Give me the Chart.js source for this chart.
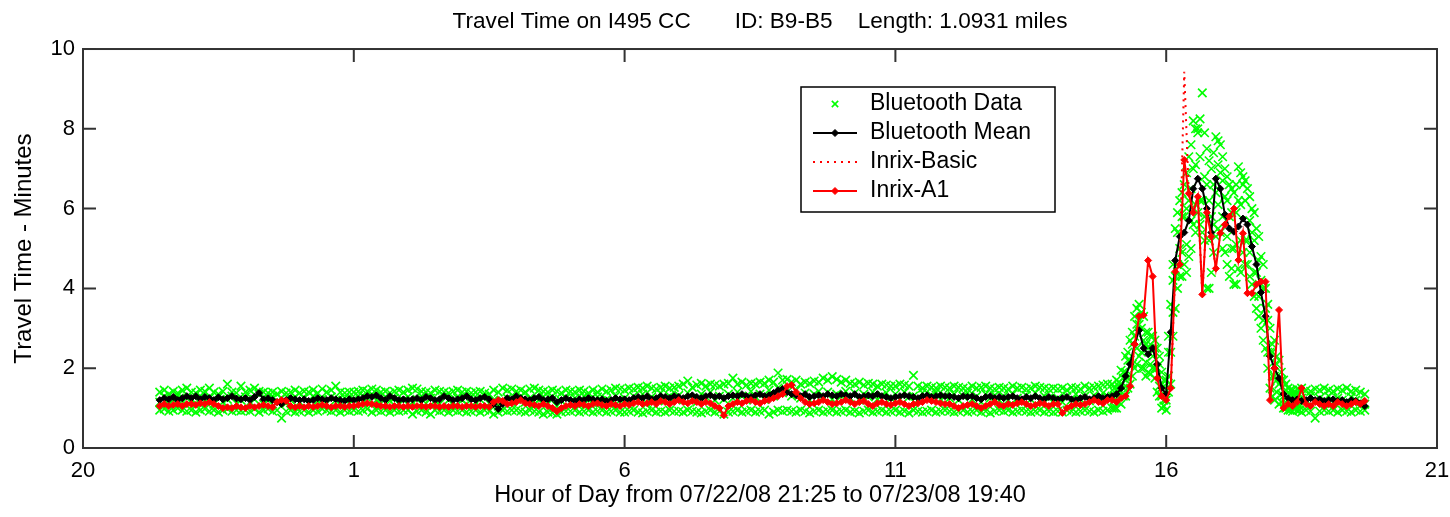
<!DOCTYPE html>
<html>
<head>
<meta charset="utf-8">
<title>Travel Time on I495 CC</title>
<script src="https://cdn.jsdelivr.net/npm/chart.js@4.4.0/dist/chart.umd.min.js"></script>
<style>
  html, body { margin: 0; padding: 0; background: #fff; }
  #wrap { position: relative; width: 1450px; height: 517px; }
</style>
</head>
<body>
<div id="wrap"><canvas id="tt"></canvas></div>
<script>
// time axis is "hours since midnight of 07/22/08" (so 25 = 1am next day)
var startHour = 21 + 25 / 60;    // 21:25
var stepHours = 5 / 60;          // one sample every 5 min
var peakStart = 39 + 2.5 / 60;   // extra bluetooth samples in the peak, 15:02:30
var basicStart = 40;             // inrix-basic piece that differs, 16:00

var titleText = 'Travel Time on I495 CC       ID: B9-B5    Length: 1.0931 miles';
var xTitle = 'Hour of Day from 07/22/08 21:25 to 07/23/08 19:40';
var yTitle = 'Travel Time - Minutes';
var xTickHours = [20, 25, 30, 35, 40, 45];
var yTickValues = [0, 2, 4, 6, 8, 10];

var btMean = [
  1.2,1.25,1.22,1.28,1.2,1.25,1.3,
  1.25,1.3,1.22,1.28,1.25,1.2,1.27,1.22,1.25,1.3,1.24,1.22,
  1.25,1.2,1.28,1.38,1.22,1.25,1.2,1.15,1.1,1.2,1.25,1.22,
  1.2,1.22,1.18,1.2,1.25,1.22,1.2,1.25,1.22,1.2,1.18,1.22,
  1.2,1.22,1.25,1.3,1.28,1.32,1.25,1.2,1.3,1.25,1.2,1.22,
  1.2,1.22,1.25,1.2,1.28,1.25,1.2,1.22,1.3,1.25,1.2,1.22,
  1.25,1.3,1.22,1.2,1.25,1.28,1.22,1.1,0.98,1.1,1.25,1.22,
  1.3,1.25,1.22,1.2,1.25,1.28,1.2,1.22,1.25,1.15,1.2,1.25,
  1.2,1.18,1.22,1.2,1.25,1.22,1.2,1.22,1.18,1.2,1.25,1.22,
  1.22,1.2,1.25,1.28,1.25,1.3,1.22,1.25,1.3,1.28,1.25,1.3,
  1.28,1.25,1.3,1.32,1.28,1.25,1.3,1.32,1.28,1.3,1.25,1.3,
  1.32,1.3,1.35,1.3,1.28,1.32,1.35,1.3,1.32,1.38,1.45,1.48,
  1.4,1.35,1.32,1.3,1.35,1.28,1.3,1.32,1.3,1.35,1.32,1.3,
  1.35,1.32,1.3,1.35,1.28,1.3,1.32,1.3,1.35,1.3,1.28,1.25,
  1.28,1.3,1.32,1.3,1.28,1.25,1.3,1.32,1.28,1.3,1.32,1.3,
  1.3,1.28,1.25,1.3,1.28,1.3,1.25,1.22,1.28,1.3,1.25,1.28,
  1.25,1.28,1.3,1.25,1.22,1.28,1.25,1.3,1.25,1.22,1.28,1.25,
  1.22,1.25,1.28,1.22,1.2,1.25,1.28,1.22,1.25,1.3,1.25,1.28,
  1.3,1.35,1.5,1.8,2.1,2.6,2.95,2.5,2.35,2.5,2.1,1.5,
  1.35,2.9,4.7,5.3,5.4,5.7,6.5,6.75,6.5,6.0,5.4,6.75,
  6.5,5.85,5.5,5.42,5.55,5.75,5.6,5.05,4.6,3.9,3.3,2.3,
  2.0,1.75,1.35,1.25,1.2,1.22,1.18,1.2,1.25,1.2,1.22,1.18,
  1.2,1.22,1.18,1.2,1.15,1.2,1.18,1.12,1.05
];

var inrixA1 = [
  1.05,1.1,1.05,1.08,1.1,1.05,1.1,
  1.1,1.08,1.12,1.1,1.15,1.1,1.05,1.0,1.02,1.0,1.05,1.02,
  1.0,1.05,1.02,1.05,1.08,1.05,1.02,1.15,1.2,1.18,1.05,1.02,
  1.05,1.02,1.05,1.03,1.05,1.08,1.05,1.02,1.05,1.05,1.03,1.05,
  1.05,1.08,1.1,1.12,1.1,1.08,1.05,1.05,1.03,1.05,1.05,1.03,
  1.05,1.03,1.05,1.05,1.03,1.05,1.05,1.03,1.05,1.03,1.05,1.05,
  1.03,1.05,1.05,1.03,1.05,1.05,1.03,1.15,1.2,1.18,1.1,1.12,
  1.15,1.2,1.12,1.1,1.08,1.05,1.1,1.05,1.0,0.92,1.0,1.05,
  1.08,1.05,1.1,1.08,1.05,1.1,1.12,1.08,1.05,1.1,1.08,1.05,
  1.1,1.08,1.12,1.15,1.1,1.12,1.15,1.1,1.18,1.15,1.1,1.15,
  1.2,1.15,1.12,1.18,1.15,1.1,1.15,1.12,1.05,1.0,0.82,1.05,
  1.1,1.15,1.12,1.18,1.2,1.15,1.12,1.18,1.2,1.25,1.3,1.35,
  1.55,1.58,1.4,1.25,1.15,1.1,1.12,1.15,1.2,1.15,1.1,1.12,
  1.15,1.2,1.15,1.1,1.15,1.18,1.1,1.05,1.12,1.15,1.1,1.08,
  1.12,1.15,1.1,1.05,1.1,1.12,1.15,1.2,1.18,1.15,1.12,1.1,
  1.1,1.05,1.0,1.05,1.08,1.1,1.05,1.0,1.05,1.1,1.15,1.08,
  1.05,1.1,1.08,1.12,1.15,1.1,1.05,1.08,1.12,1.1,1.05,1.1,
  1.1,0.88,1.0,1.05,1.1,1.08,1.1,1.15,1.2,1.15,1.12,1.2,
  1.2,1.15,1.25,1.3,1.55,2.6,3.3,3.33,4.7,4.3,1.75,1.3,
  1.2,1.5,4.42,4.6,7.22,6.38,5.9,6.3,3.85,5.9,5.3,4.5,
  5.38,5.6,5.8,6.0,4.71,5.38,3.88,3.88,4.1,4.17,4.17,1.2,
  2.0,3.46,1.0,1.1,1.05,1.15,1.5,1.1,1.05,1.15,1.1,1.05,
  1.1,1.05,1.15,1.1,1.05,1.1,1.15,1.1,1.18
];

var inrixBasic = [1.2,1.5,4.42,4.6,9.43,6.38,5.9,6.3,3.85,5.9,5.3,4.5];

// raw bluetooth matches, three per 5 min slot (upper, middle, lower of the cloud)
var btHi = [
  1.4,1.45,1.35,1.42,1.38,1.45,1.5,
  1.4,1.38,1.45,1.42,1.5,1.4,1.35,1.42,1.6,1.4,1.38,1.55,
  1.4,1.45,1.5,1.42,1.4,1.38,1.4,1.35,1.42,1.38,1.4,1.45,
  1.38,1.42,1.4,1.45,1.38,1.48,1.4,1.45,1.55,1.4,1.38,1.4,
  1.4,1.42,1.45,1.42,1.48,1.45,1.4,1.42,1.38,1.42,1.45,1.4,
  1.45,1.5,1.48,1.42,1.4,1.38,1.45,1.42,1.4,1.38,1.42,1.45,
  1.4,1.42,1.38,1.4,1.42,1.38,1.35,1.45,1.4,1.5,1.45,1.48,
  1.42,1.45,1.4,1.48,1.5,1.45,1.42,1.4,1.45,1.42,1.38,1.45,
  1.42,1.4,1.45,1.42,1.38,1.45,1.4,1.48,1.42,1.45,1.5,1.48,
  1.45,1.5,1.48,1.52,1.5,1.55,1.5,1.48,1.52,1.55,1.5,1.52,
  1.55,1.6,1.68,1.52,1.58,1.62,1.55,1.6,1.58,1.55,1.6,1.62,
  1.75,1.6,1.65,1.58,1.62,1.6,1.65,1.62,1.7,1.65,1.88,1.7,
  1.72,1.65,1.7,1.6,1.65,1.62,1.68,1.65,1.75,1.7,1.79,1.72,
  1.65,1.7,1.62,1.6,1.65,1.58,1.62,1.6,1.55,1.6,1.58,1.55,
  1.55,1.6,1.58,1.55,1.82,1.55,1.5,1.55,1.52,1.5,1.55,1.52,
  1.5,1.55,1.52,1.5,1.48,1.55,1.5,1.52,1.55,1.5,1.48,1.52,
  1.5,1.48,1.55,1.5,1.52,1.48,1.5,1.55,1.52,1.5,1.48,1.5,
  1.48,1.5,1.45,1.52,1.5,1.48,1.55,1.5,1.52,1.55,1.58,1.6,
  1.6,1.7,1.95,2.3,2.7,3.3,3.6,3.3,2.9,2.8,2.5,1.9,
  1.7,3.6,5.5,6.2,6.6,7.3,8.2,8.0,8.9,7.5,7.0,7.8,
  7.6,7.0,6.6,6.4,7.05,6.8,6.5,6.0,5.5,4.8,4.0,3.0,
  2.7,2.2,1.7,1.5,1.45,1.48,1.5,1.45,1.42,1.48,1.45,1.5,
  1.45,1.42,1.48,1.45,1.5,1.42,1.45,1.4,1.35
];

var btMid = [
  1.15,1.3,1.1,1.2,1.32,1.18,1.25,
  1.2,1.12,1.3,1.18,1.25,1.1,1.28,1.15,1.22,1.3,1.12,1.2,
  1.28,1.15,1.22,1.35,1.1,1.2,1.3,1.15,1.25,1.12,1.2,1.28,
  1.15,1.25,1.1,1.3,1.18,1.22,1.12,1.28,1.2,1.15,1.25,1.1,
  1.22,1.3,1.15,1.25,1.35,1.2,1.12,1.28,1.18,1.25,1.1,1.2,
  1.28,1.15,1.22,1.3,1.12,1.25,1.18,1.1,1.3,1.2,1.15,1.25,
  1.2,1.1,1.28,1.15,1.22,1.3,1.12,1.2,1.05,1.18,1.25,1.15,
  1.22,1.3,1.15,1.25,1.1,1.2,1.28,1.12,1.22,1.05,1.18,1.25,
  1.15,1.25,1.1,1.3,1.2,1.12,1.28,1.18,1.22,1.1,1.3,1.2,
  1.25,1.15,1.3,1.2,1.35,1.12,1.28,1.22,1.38,1.18,1.3,1.25,
  1.32,1.2,1.38,1.25,1.15,1.35,1.28,1.4,1.2,1.3,1.22,1.35,
  1.25,1.4,1.3,1.2,1.42,1.28,1.35,1.22,1.45,1.3,1.5,1.38,
  1.4,1.3,1.45,1.25,1.38,1.2,1.35,1.42,1.28,1.4,1.22,1.35,
  1.3,1.42,1.25,1.38,1.2,1.35,1.28,1.4,1.22,1.32,1.38,1.25,
  1.35,1.22,1.4,1.28,1.3,1.2,1.38,1.25,1.32,1.4,1.22,1.3,
  1.25,1.35,1.2,1.3,1.38,1.22,1.3,1.15,1.35,1.25,1.32,1.2,
  1.3,1.2,1.35,1.25,1.15,1.32,1.22,1.38,1.2,1.3,1.25,1.18,
  1.25,1.15,1.3,1.2,1.35,1.22,1.3,1.18,1.32,1.25,1.38,1.3,
  1.3,1.45,1.6,1.9,2.2,2.8,3.1,2.7,2.5,2.3,2.0,1.3,
  1.2,2.4,4.3,5.0,5.8,6.2,7.0,7.9,6.2,6.6,5.8,6.4,
  6.9,6.3,5.8,5.0,6.2,6.6,5.2,5.4,4.4,4.2,3.5,2.4,
  1.8,1.6,1.3,1.2,1.3,1.15,1.25,1.2,1.3,1.18,1.25,1.2,
  1.3,1.15,1.25,1.2,1.12,1.28,1.2,1.15,1.1
];

var btLo = [
  0.95,0.98,0.92,0.95,1.0,0.95,0.92,
  0.95,0.9,0.95,0.98,0.92,0.95,0.9,0.95,0.98,0.92,0.95,0.93,
  0.95,0.92,0.98,0.9,0.95,0.98,0.92,0.95,0.75,0.92,0.95,0.9,
  0.92,0.95,0.9,0.95,0.92,0.98,0.95,0.92,0.95,0.9,0.95,0.92,
  0.95,0.92,0.95,0.98,0.9,0.95,0.92,0.95,0.9,0.95,0.92,0.95,
  0.95,0.85,0.92,0.95,0.9,0.85,0.95,0.92,0.95,0.9,0.95,0.92,
  0.95,0.9,0.92,0.95,0.9,0.95,0.92,0.85,0.9,0.95,0.92,0.95,
  0.95,0.92,0.9,0.95,0.92,0.9,0.85,0.9,0.88,0.85,0.9,0.92,
  0.92,0.95,0.9,0.92,0.95,0.9,0.92,0.95,0.9,0.92,0.95,0.9,
  0.9,0.92,0.95,0.9,0.88,0.92,0.95,0.9,0.92,0.9,0.95,0.92,
  0.92,0.9,0.95,0.92,0.9,0.88,0.92,0.95,0.9,0.92,0.85,0.9,
  0.92,0.95,0.9,0.92,0.95,0.9,0.92,0.95,0.85,0.9,0.95,0.92,
  0.95,0.92,0.9,0.95,0.92,0.88,0.92,0.95,0.9,0.92,0.95,0.9,
  0.92,0.95,0.9,0.92,0.88,0.92,0.95,0.9,0.92,0.95,0.9,0.92,
  0.95,0.9,0.92,0.88,0.95,0.92,0.9,0.92,0.95,0.9,0.92,0.95,
  0.92,0.9,0.92,0.95,0.9,0.92,0.95,0.9,0.92,0.88,0.92,0.95,
  0.92,0.95,0.9,0.92,0.95,0.92,0.9,0.92,0.95,0.9,0.92,0.9,
  0.92,0.9,0.95,0.92,0.9,0.92,0.95,0.92,0.9,0.95,0.92,0.95,
  1.0,1.0,1.1,1.3,1.6,2.0,2.3,2.0,1.9,2.0,1.4,1.0,
  0.95,1.6,3.5,4.3,4.6,4.8,5.6,5.9,5.4,4.0,4.4,5.3,
  5.4,4.9,4.3,4.1,4.5,4.9,4.6,4.1,3.5,3.0,2.5,1.5,
  1.2,1.1,1.0,0.95,0.92,0.95,0.9,0.95,0.92,0.75,0.92,0.95,
  0.92,0.95,0.9,0.95,0.92,0.9,0.95,0.92,0.95
];

// denser bluetooth cloud during the afternoon peak (15:02 .. 18:27)
var btPeak1 = [
  1.5,1.65,1.9,2.4,2.9,3.5,3.4,2.9,2.8,2.7,2.3,1.7,
  2.8,4.6,5.9,6.4,6.9,7.6,8.0,8.25,7.9,7.2,7.4,7.7,
  7.3,6.8,6.5,6.6,6.9,6.7,6.3,5.9,5.3,4.6,3.6,2.6,
  2.3,1.9,1.6,1.45,1.4,1.45
];
var btPeak2 = [
  1.4,1.55,1.75,2.2,2.6,3.1,3.0,2.6,2.6,2.5,2.1,1.55,
  2.4,4.2,5.4,5.8,6.0,6.5,7.1,7.3,6.8,6.2,6.6,7.1,
  6.7,6.2,5.9,5.9,6.1,6.2,5.7,5.2,4.7,4.0,3.2,2.4,
  2.1,1.7,1.45,1.35,1.3,1.35
];
var btPeak3 = [
  1.2,1.3,1.5,1.75,2.1,2.5,2.4,2.15,2.1,2.0,1.55,1.2,
  1.8,3.4,4.6,4.9,5.1,5.7,6.1,6.2,5.8,5.2,5.6,6.1,
  5.8,5.3,5.0,5.1,5.2,5.2,4.9,4.4,3.8,3.2,2.4,1.8,
  1.7,1.35,1.15,1.05,1.1,1.05
];
var btPeak4 = [
  1.0,1.15,1.3,1.5,1.8,2.1,2.0,1.8,1.85,1.75,1.3,1.05,
  1.4,2.8,4.0,4.3,4.4,5.0,5.4,5.6,5.2,4.0,4.9,5.5,
  5.0,4.6,4.5,4.1,4.4,4.6,4.3,3.8,3.3,2.7,2.0,1.3,
  1.4,1.15,1.0,0.95,0.98,0.95
];

function toPoints(values, start) {
  return values.map(function(v, i) {
    return {x: start + i * stepHours, y: v};
  });
}

var btCloud = [].concat(
  toPoints(btHi, startHour), toPoints(btMid, startHour), toPoints(btLo, startHour),
  toPoints(btPeak1, peakStart), toPoints(btPeak2, peakStart),
  toPoints(btPeak3, peakStart), toPoints(btPeak4, peakStart)
);

var FONT = '"Liberation Sans", Arial, sans-serif';
Chart.defaults.font.family = FONT;
Chart.defaults.font.size = 22;
Chart.defaults.color = '#000';

var GREEN = 'rgb(0,255,0)';
var RED = 'rgb(255,0,0)';
var AXIS = '#333';

// box + inward ticks on all four sides, like matlab
var framePlugin = {
  id: 'matlabFrame',
  afterDatasetsDraw: function(chart) {
    var a = chart.chartArea, ctx = chart.ctx;
    var xs = chart.scales.x, ys = chart.scales.y;
    var len = 13;
    ctx.save();
    ctx.strokeStyle = AXIS;
    ctx.lineWidth = 2;
    ctx.strokeRect(a.left, a.top, a.right - a.left, a.bottom - a.top);
    ctx.beginPath();
    xTickHours.forEach(function(h) {
      var px = xs.getPixelForValue(h);
      ctx.moveTo(px, a.bottom); ctx.lineTo(px, a.bottom - len);
      ctx.moveTo(px, a.top); ctx.lineTo(px, a.top + len);
    });
    yTickValues.forEach(function(v) {
      var py = ys.getPixelForValue(v);
      ctx.moveTo(a.left, py); ctx.lineTo(a.left + len, py);
      ctx.moveTo(a.right, py); ctx.lineTo(a.right - len, py);
    });
    ctx.stroke();
    ctx.restore();
  }
};

// legend box inside the plot, top right
var legendPlugin = {
  id: 'boxLegend',
  afterDraw: function(chart) {
    var ctx = chart.ctx;
    var bx = 801, by = 87, bw = 254, bh = 125;
    var symX = 835, textX = 870, rowY = [104, 133, 162, 191];
    ctx.save();
    ctx.fillStyle = '#fff';
    ctx.fillRect(bx, by, bw, bh);
    ctx.strokeStyle = '#000';
    ctx.lineWidth = 1.5;
    ctx.strokeRect(bx, by, bw, bh);

    chart.data.datasets.forEach(function(ds, i) {
      var y = rowY[i];
      ctx.save();
      if (ds.showLine) {
        ctx.strokeStyle = ds.borderColor;
        ctx.lineWidth = ds.borderWidth;
        ctx.setLineDash(ds.borderDash || []);
        ctx.beginPath();
        ctx.moveTo(symX - 22, y); ctx.lineTo(symX + 22, y);
        ctx.stroke();
        ctx.setLineDash([]);
      }
      if (ds.pointRadius > 0) {
        ctx.fillStyle = ds.pointBackgroundColor;
        ctx.strokeStyle = ds.pointBorderColor;
        ctx.lineWidth = ds.pointBorderWidth;
        var r = ds.pointStyle === 'crossRot' ? 4.5 : ds.pointRadius;
        Chart.helpers.drawPoint(ctx, {
          pointStyle: ds.pointStyle, radius: r,
          borderWidth: ds.pointBorderWidth, rotation: 0
        }, symX, y);
      }
      ctx.restore();
      ctx.fillStyle = '#000';
      ctx.font = '23px ' + FONT;
      ctx.textBaseline = 'middle';
      ctx.fillText(ds.label, textX, y);
    });
    ctx.restore();
  }
};

var chart = new Chart(document.getElementById('tt'), {
  type: 'scatter',
  data: {
    datasets: [
      {
        label: 'Bluetooth Data', data: btCloud, order: 4, showLine: false,
        pointStyle: 'crossRot', pointRadius: 6, pointBorderWidth: 1.6,
        pointBorderColor: GREEN, pointBackgroundColor: GREEN,
        borderColor: GREEN, backgroundColor: GREEN
      },
      {
        label: 'Bluetooth Mean', data: toPoints(btMean, startHour), order: 3, showLine: true,
        borderColor: '#000', borderWidth: 2, tension: 0,
        pointStyle: 'rectRot', pointRadius: 3.5, pointBorderWidth: 1,
        pointBorderColor: '#000', pointBackgroundColor: '#000'
      },
      {
        label: 'Inrix-Basic', data: toPoints(inrixBasic, basicStart), order: 2, showLine: true,
        borderColor: RED, borderWidth: 2, borderDash: [2, 5], tension: 0,
        pointRadius: 0
      },
      {
        label: 'Inrix-A1', data: toPoints(inrixA1, startHour), order: 1, showLine: true,
        borderColor: RED, borderWidth: 2, tension: 0,
        pointStyle: 'rectRot', pointRadius: 3.5, pointBorderWidth: 1,
        pointBorderColor: RED, pointBackgroundColor: RED
      }
    ]
  },
  options: {
    animation: false,
    responsive: true,
    maintainAspectRatio: false,
    events: [],
    layout: { padding: { top: 0, right: 13, bottom: 0, left: 0 } },
    plugins: {
      legend: { display: false },
      tooltip: { enabled: false },
      title: {
        display: true, text: titleText, fullSize: false, color: '#000',
        font: { size: 22.6, weight: 'normal' },
        padding: { top: 8, bottom: 13.9 }
      }
    },
    scales: {
      x: {
        type: 'linear', min: 20, max: 45,
        grid: { display: false, drawTicks: false },
        border: { display: false },
        ticks: {
          stepSize: 5, autoSkip: false, maxRotation: 0, padding: 10, color: '#000',
          callback: function(v) { return v % 24; }
        },
        title: { display: true, text: xTitle, color: '#000', font: { size: 23.5 }, padding: { top: 0, bottom: 7 } },
        afterFit: function(s) { s.height = 69; s.paddingLeft = 0; s.paddingRight = 0; }
      },
      y: {
        min: 0, max: 10,
        grid: { display: false, drawTicks: false },
        border: { display: false },
        ticks: { stepSize: 2, padding: 8, color: '#000' },
        title: { display: true, text: yTitle, color: '#000', font: { size: 24 }, padding: { top: 10, bottom: 0 } },
        afterFit: function(s) { s.width = 83; }
      }
    }
  },
  plugins: [framePlugin, legendPlugin]
});
</script>
</body>
</html>
